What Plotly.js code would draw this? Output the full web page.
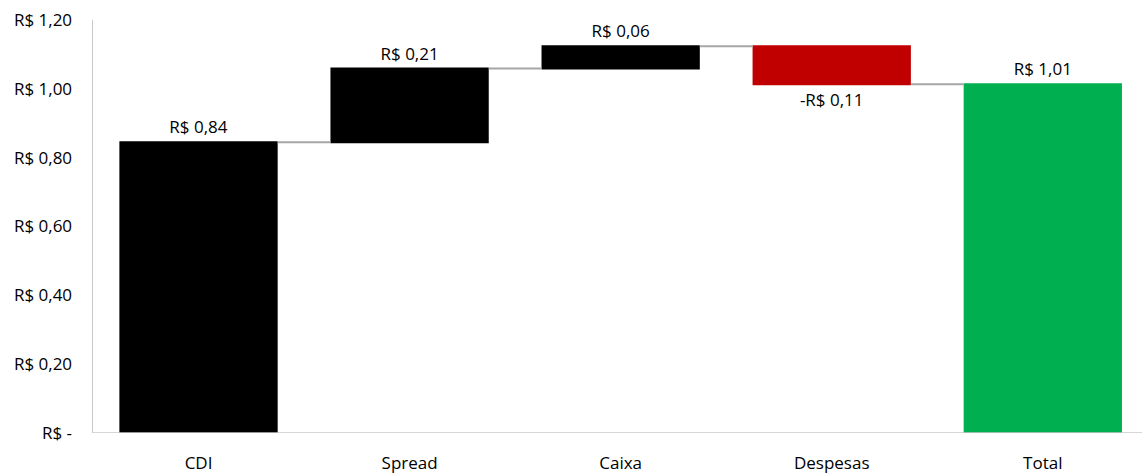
<!DOCTYPE html>
<html>
<head>
<meta charset="utf-8">
<script src="https://cdn.plot.ly/plotly-3.0.1.min.js"></script>
<style>
  html, body { margin: 0; padding: 0; background: #ffffff; }
  #chart { width: 1142px; height: 475px; }
</style>
</head>
<body>
<div id="chart"></div>
<script>
// Composição do resultado (R$ por cota)
const categories = ["CDI", "Spread", "Caixa", "Despesas", "Total"];
const values = [0.8445, 0.2145, 0.0645, -0.110, null];
const measures = ["relative", "relative", "relative", "relative", "total"];
const yTickVals = [0, 0.2, 0.4, 0.6, 0.8, 1.0, 1.2];
const yTickText = ["R$ -", "R$ 0,20", "R$ 0,40", "R$ 0,60", "R$ 0,80", "R$ 1,00", "R$ 1,20"];

function brl(v) {
  const cents = Math.round(Math.abs(v) * 100);
  const s = (cents / 100).toFixed(2).replace(".", ",");
  return (v < 0 ? "-R$ " : "R$ ") + s;
}

// running sum gives the total bar's label
let running = 0;
const labels = values.map((v, i) => {
  if (measures[i] === "total") return brl(running);
  running += v;
  return brl(v);
});

const FONT = "Open Sans, Noto Sans, sans-serif";
const FS = 17;

const trace = {
  type: "waterfall",
  x: categories,
  y: values.map(v => v === null ? 0 : v),
  measure: measures,
  text: labels,
  textposition: "outside",
  textfont: { family: FONT, size: FS, color: "#000000" },
  cliponaxis: false,
  width: 0.75,
  increasing: { marker: { color: "#000000" } },
  decreasing: { marker: { color: "#c00000" } },
  totals: { marker: { color: "#00b050" } },
  connector: { mode: "between", line: { color: "#a6a6a6", width: 2 } },
  hoverinfo: "none"
};

const layout = {
  width: 1142,
  height: 475,
  margin: { l: 93, r: 0, t: 20, b: 42 },
  paper_bgcolor: "#ffffff",
  plot_bgcolor: "#ffffff",
  showlegend: false,
  font: { family: FONT, size: FS, color: "#000000" },
  xaxis: {
    type: "category",
    range: [-0.5, 4.47],
    showgrid: false,
    zeroline: false,
    showline: false,
    ticks: "",
    ticklabelstandoff: 18,
    tickfont: { family: FONT, size: FS, color: "#000000" },
    fixedrange: true
  },
  yaxis: {
    range: [0, 1.2],
    tickvals: yTickVals,
    ticktext: yTickText,
    showgrid: false,
    zeroline: false,
    showline: true,
    linecolor: "#c8c8c8",
    linewidth: 1.5,
    ticks: "",
    ticklabelstandoff: 16,
    tickfont: { family: FONT, size: FS, color: "#000000" },
    fixedrange: true
  },
  shapes: [
    {
      type: "line", xref: "paper", yref: "y",
      x0: 0, x1: 1, y0: 0, y1: 0,
      line: { color: "#c8c8c8", width: 1.5 }
    }
  ]
};

Plotly.newPlot("chart", [trace], layout, { staticPlot: true, displayModeBar: false });
</script>
</body>
</html>
